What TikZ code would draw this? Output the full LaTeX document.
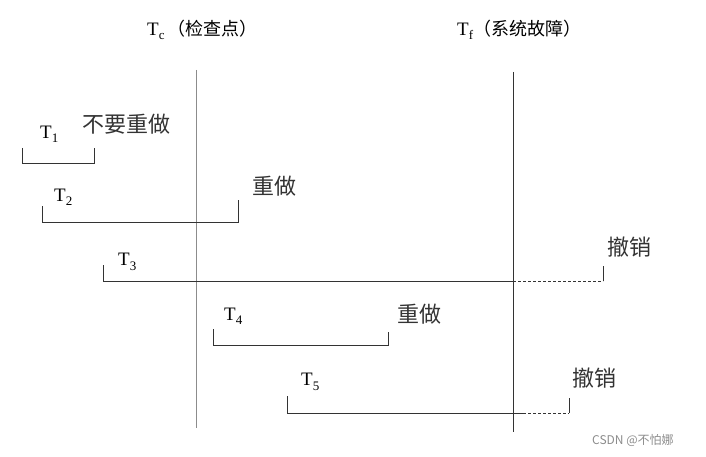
\documentclass[tikz,border=0pt]{standalone}
\usepackage{fontspec}
\setmainfont{Liberation Serif}
\newfontfamily\cjk{Noto Sans CJK SC}
\usetikzlibrary{positioning}

% T with a lowered index
\newcommand{\tsub}[1]{T\raisebox{-0.5ex}{\fontsize{13}{13}\selectfont #1}}

\begin{document}
\begin{tikzpicture}[x=1pt, y=-1pt,
  txline/.style={draw=black!80, line width=0.9pt},
  lost/.style={draw=black!80, line width=0.9pt, dash pattern=on 3pt off 2pt},
  timeline/.style={line width=1pt},
  tname/.style={anchor=west, inner sep=0pt, font=\fontsize{19}{19}\selectfont},
  act/.style={anchor=west, inner sep=0pt, text=black!80, font=\cjk\fontsize{22}{22}\selectfont},
]
  \useasboundingbox (0,0) rectangle (706,457);

  % check point and crash
  \coordinate (tctop) at (196,70);
  \coordinate (tcbot) at (196,428);
  \coordinate (tftop) at (513,72);
  \coordinate (tfbot) at (513,432);
  \draw[timeline, black!45] (tctop) -- (tcbot);
  \draw[timeline, black!80] (tftop) -- (tfbot);
  \node[tname] (tclabel) at (147,30) {\tsub{c}\,{\cjk\fontsize{18}{18}\selectfont （检查点）}};
  \node[tname] (tflabel) at (457,30) {\tsub{f}{\cjk\fontsize{18}{18}\selectfont （系统故障）}};

  % T1
  \coordinate (t1s) at (22,163);
  \coordinate (t1e) at (94,163);
  \draw[txline] ([yshift=15pt]t1s) -- (t1s) -- (t1e) -- ([yshift=15pt]t1e);
  \node[tname] (t1) at (40,134) {\tsub{1}};
  \node[act] (t1act) at (82,124) {不要重做};

  % T2
  \coordinate (t2s) at (42,222);
  \coordinate (t2e) at (238,222);
  \draw[txline] ([yshift=16pt]t2s) -- (t2s) -- (t2e) -- ([yshift=22pt]t2e);
  \node[tname] (t2) at (54,197) {\tsub{2}};
  \node[act] (t2act) at (252,186) {重做};

  % T3
  \coordinate (t3s) at (103,281);
  \coordinate (t3f) at (513,281);
  \coordinate (t3e) at (603,281);
  \draw[txline] ([yshift=16pt]t3s) -- (t3s) -- (t3f);
  \draw[lost] (t3f) -- (t3e);
  \draw[txline] (t3e) -- ([yshift=15pt]t3e);
  \node[tname] (t3) at (118,262) {\tsub{3}};
  \node[act] (t3act) at (607,247) {撤销};

  % T4
  \coordinate (t4s) at (213,345);
  \coordinate (t4e) at (388,345);
  \draw[txline] ([yshift=16pt]t4s) -- (t4s) -- (t4e) -- ([yshift=13pt]t4e);
  \node[tname] (t4) at (224,316) {\tsub{4}};
  \node[act] (t4act) at (397,314) {重做};

  % T5
  \coordinate (t5s) at (287,413);
  \coordinate (t5f) at (523,413);
  \coordinate (t5e) at (569,413);
  \draw[txline] ([yshift=17pt]t5s) -- (t5s) -- (t5f);
  \draw[lost] (t5f) -- (t5e);
  \draw[txline] (t5e) -- ([yshift=15pt]t5e);
  \node[tname] (t5) at (301,382) {\tsub{5}};
  \node[act] (t5act) at (572,378) {撤销};

  \node[anchor=west, inner sep=0pt, text=black!45, font=\cjk\fontsize{12}{12}\selectfont] (mark1) at (592,440) {CSDN @不怕娜};
\end{tikzpicture}
\end{document}
